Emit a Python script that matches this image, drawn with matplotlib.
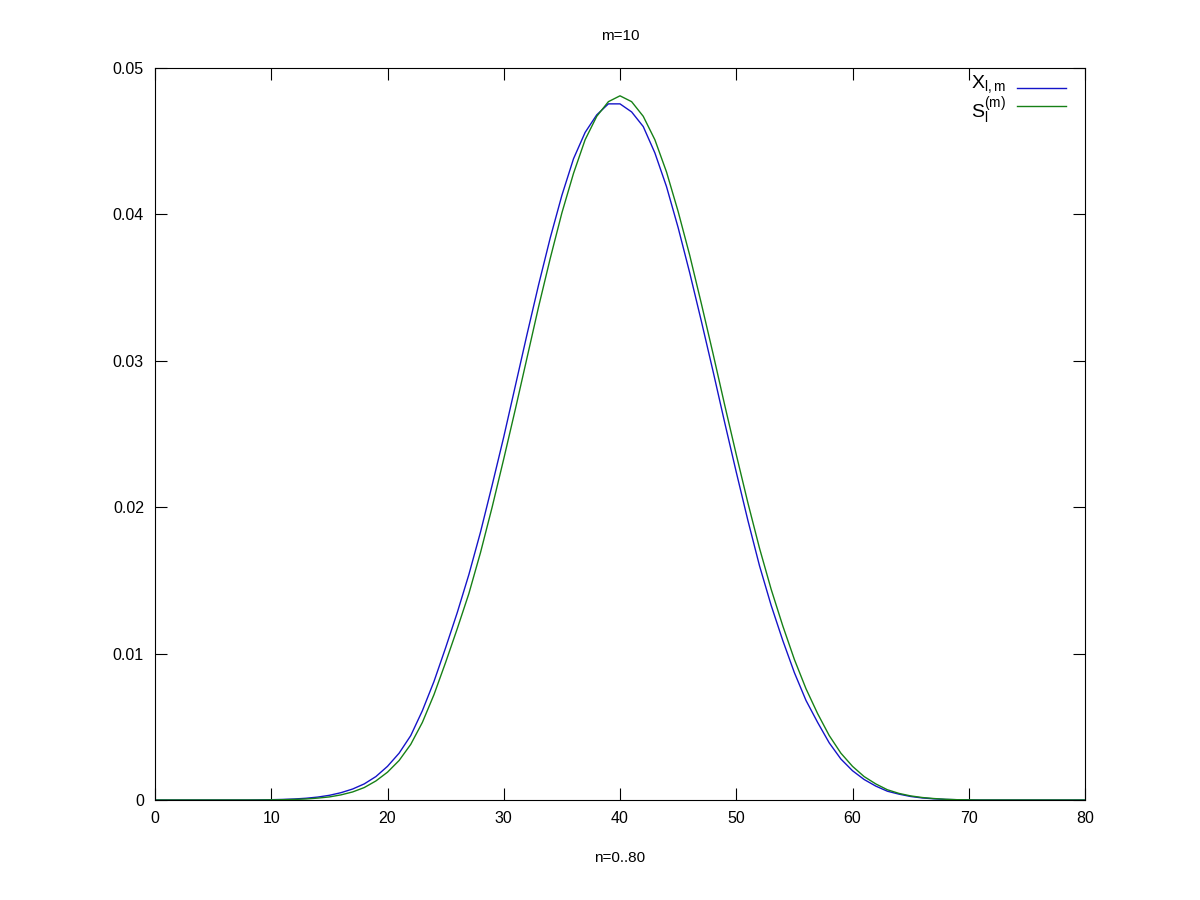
import matplotlib
matplotlib.use("Agg")
import matplotlib.pyplot as plt
from matplotlib.lines import Line2D
import numpy as np

plt.rcParams['font.family'] = ['Liberation Sans', 'DejaVu Sans']
plt.rcParams['mathtext.fontset'] = 'custom'
plt.rcParams['mathtext.rm'] = 'Liberation Sans'
plt.rcParams['mathtext.it'] = 'Liberation Sans'

title = "m=10"
xlabel = "n=0..80"
label_x = r"$\mathregular{X_{l,m}}$"
label_s = r"$\mathregular{S_l^{(m)}}$"

n = list(range(0, 81))

# X_{l,m} (blue), n = 0..80
x_lm = [0, 0, 0, 0, 0, 0, 0, 0, 0, 0.00001,
        0.00002, 0.00004, 0.00007, 0.00012, 0.0002, 0.00032, 0.0005, 0.00075, 0.0011, 0.0016,
        0.0023, 0.0032, 0.0044, 0.0061, 0.0081, 0.0104, 0.0128, 0.0154, 0.0183, 0.0215,
        0.0248, 0.0283, 0.0318, 0.0352, 0.0384, 0.0413, 0.0438, 0.0456, 0.0468, 0.04755,
        0.04755, 0.0470, 0.0460, 0.0442, 0.0419, 0.0391, 0.0360, 0.0327, 0.0293, 0.0258,
        0.0224, 0.0191, 0.0160, 0.0133, 0.0109, 0.0087, 0.0068, 0.0053, 0.0039, 0.0028,
        0.0020, 0.0014, 0.00095, 0.0006, 0.0004, 0.00024, 0.00014, 0.00008, 0.00004, 0.00002,
        0.00001, 0, 0, 0, 0, 0, 0, 0, 0, 0,
        0]

# S_l^{(m)} (green), n = 0..80
s_lm = [0, 0, 0, 0, 0, 0, 0, 0, 0, 0,
        0.00001, 0.00002, 0.00004, 0.00007, 0.00013, 0.00021, 0.00035, 0.00055, 0.00085, 0.0013,
        0.0019, 0.0027, 0.0038, 0.0053, 0.0072, 0.0094, 0.0117, 0.0141, 0.0169, 0.0200,
        0.0233, 0.0267, 0.0302, 0.0337, 0.0370, 0.0401, 0.0428, 0.0451, 0.0467, 0.0477,
        0.0481, 0.0477, 0.0467, 0.0451, 0.0429, 0.0402, 0.0372, 0.0339, 0.0305, 0.0270,
        0.0236, 0.0203, 0.0172, 0.0144, 0.0119, 0.0096, 0.0076, 0.0059, 0.0044, 0.0032,
        0.0023, 0.0016, 0.0011, 0.0007, 0.00045, 0.00028, 0.00017, 0.0001, 0.00005, 0.00002,
        0.00001, 0, 0, 0, 0, 0, 0, 0, 0, 0,
        0]

xticks = [0, 10, 20, 30, 40, 50, 60, 70, 80]
yticks = [0, 0.01, 0.02, 0.03, 0.04, 0.05]
yticklabels = ["0", "0.01", "0.02", "0.03", "0.04", "0.05"]

colors = ['#1414c8', '#168016']

fig = plt.figure(figsize=(12, 9), dpi=100)
ax = fig.add_axes([155/1200, 100/900, 930/1200, 732/900])

ax.plot(n, x_lm, color=colors[0], lw=1.0)
ax.plot(n, s_lm, color=colors[1], lw=1.0)

ax.set_xlim(0, 80)
ax.set_ylim(0, 0.05)
ax.set_xticks(xticks)
ax.set_xticklabels([str(t) for t in xticks])
ax.set_yticks(yticks)
ax.set_yticklabels(yticklabels)
ax.tick_params(direction='in', length=8.5, width=0.8, labelsize=11.5,
               top=True, right=True, pad=8)
for sp in ax.spines.values():
    sp.set_linewidth(0.8)

ax.set_title(title, fontsize=11, pad=20)
ax.set_xlabel(xlabel, fontsize=11, labelpad=18)

# gnuplot-style key (top right, text right-justified, sample line after text)
def px2ax(px, py):
    return (px - 155) / 930, (800 - py) / 732

line_y = [88, 106]
text_y = [84, 111]
for lab, col, ly, ty_px in zip([label_x, label_s], colors, line_y, text_y):
    x0, y0 = px2ax(1017, ly)
    x1, _ = px2ax(1066, ly)
    ax.add_line(Line2D([x0, x1], [y0, y0], transform=ax.transAxes,
                       color=col, lw=1.0, clip_on=False))
    tx, ty = px2ax(1006, ty_px)
    ax.text(tx, ty, lab, transform=ax.transAxes, ha='right', va='center',
            fontsize=14)

fig.savefig("out.png", dpi=100)
